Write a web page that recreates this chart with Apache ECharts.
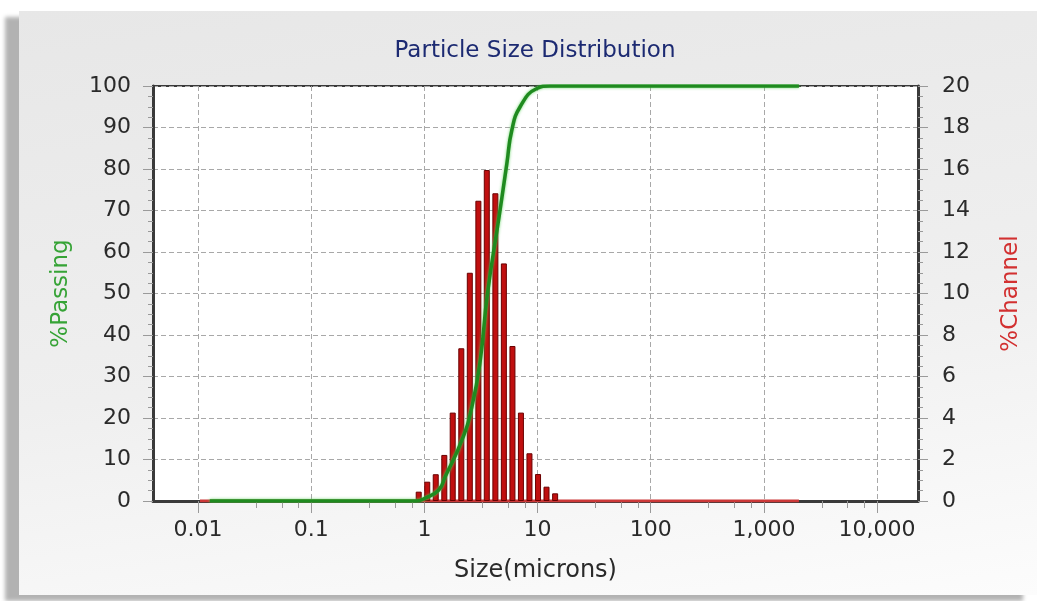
<!DOCTYPE html>
<html><head><meta charset="utf-8">
<script src="https://cdn.jsdelivr.net/npm/echarts@6/dist/echarts.min.js"></script>
<style>
html,body{margin:0;padding:0;background:#fff;width:1037px;height:601px;overflow:hidden;}
#panel{position:absolute;left:19px;top:11px;width:1018px;height:584px;background:linear-gradient(172deg,#e7e7e7 0%,#efefef 55%,#fcfcfc 100%);box-shadow:-14px 6px 4px rgba(0,0,0,0.3);}
#chart{position:absolute;left:0;top:0;width:1037px;height:601px;}
</style></head><body><div id="panel"></div><div id="chart"></div>
<script>
// %Channel bars (size in microns, percent in channel)
const channelSizes = [0.891, 1.06, 1.26, 1.5, 1.78, 2.12, 2.52, 3.0, 3.56, 4.24, 5.04, 6.0, 7.13, 8.48, 10.1, 12.0, 14.3];
const channelPercent = [0.45, 0.93, 1.29, 2.22, 4.26, 7.36, 11.0, 14.47, 15.95, 14.83, 11.45, 7.47, 4.26, 2.3, 1.3, 0.69, 0.37];
// %Channel zero line
const channelLineSizes = [0.0104, 2040];
const channelLinePercent = [0, 0];
// %Passing cumulative curve
const passingSizes = [0.0127, 0.85, 1.0, 1.34, 1.53, 2.15, 2.63, 3.12, 3.61, 4.6, 5.36, 5.93, 7.02, 9.86, 12.9, 20, 2040];
const passingPercent = [0, 0, 0.6, 2.65, 5.9, 14.7, 22.7, 34, 50, 69, 81.4, 89.4, 95, 99.4, 100, 100, 100];
// axis ticks
const xTickValues = [0.01, 0.1, 1, 10, 100, 1000, 10000];
const xTickLabels = ['0.01', '0.1', '1', '10', '100', '1,000', '10,000'];
const xMinorTickValues = [0.0325, 0.055, 0.0775, 0.325, 0.55, 0.775, 3.25, 5.5, 7.75, 32.5, 55, 77.5, 325, 550, 775, 3250, 5500, 7750];

const FONT = 'DejaVu Sans';
const zip = (a, b) => a.map((v, i) => [v, b[i]]);
const labelFor = v => {
  const i = xTickValues.findIndex(t => Math.abs(t - v) / t < 1e-6);
  return i >= 0 ? xTickLabels[i] : '';
};

const chart = echarts.init(document.getElementById('chart'), null, {renderer: 'canvas'});
chart.setOption({
  backgroundColor: 'transparent',
  animation: false,
  textStyle: {fontFamily: FONT},
  title: {
    text: 'Particle Size Distribution', left: 530, textAlign: 'center', top: 35,
    textStyle: {fontFamily: FONT, fontSize: 23, fontWeight: 'normal', color: '#1c2a72'}
  },
  grid: {left: 153, right: 119, top: 86, bottom: 100, show: true, backgroundColor: '#ffffff', borderColor: '#3a3a3a', borderWidth: 2},
  xAxis: [{
    type: 'log', logBase: 10, min: 0.004, max: 23000, position: 'bottom',
    axisLine: {show: true, onZero: false, lineStyle: {color: '#3a3a3a', width: 3}},
    axisTick: {show: true, length: 12, customValues: xTickValues, lineStyle: {color: '#9a9a9a', width: 1}},
    axisLabel: {show: true, customValues: xTickValues, formatter: labelFor, fontFamily: FONT, fontSize: 22, color: '#2a2a2a', margin: 18},
    splitLine: {show: true, lineStyle: {color: '#a8a8a8', type: [5, 3], width: 1}},
    name: 'Size(microns)', nameLocation: 'middle', nameGap: 58,
    nameTextStyle: {fontFamily: FONT, fontSize: 24, color: '#2a2a2a'}
  }, {
    type: 'log', logBase: 10, min: 0.004, max: 23000, position: 'bottom',
    axisLine: {show: false},
    axisTick: {show: true, length: 7, customValues: xMinorTickValues, lineStyle: {color: '#9a9a9a', width: 1}},
    axisLabel: {show: false},
    splitLine: {show: false}
  }],
  yAxis: [{
    type: 'value', min: 0, max: 100, interval: 10, position: 'left',
    axisLine: {show: true, lineStyle: {color: '#3a3a3a', width: 3}},
    axisTick: {show: true, length: 10, lineStyle: {color: '#9a9a9a'}},
    minorTick: {show: true, splitNumber: 4, length: 5, lineStyle: {color: '#9a9a9a'}},
    axisLabel: {fontFamily: FONT, fontSize: 22, color: '#2a2a2a', margin: 22},
    splitLine: {show: true, lineStyle: {color: '#a8a8a8', type: [5, 3], width: 1}},
    name: '%Passing', nameLocation: 'middle', nameGap: 80, nameRotate: 90,
    nameTextStyle: {fontFamily: FONT, fontSize: 23, color: '#36a336'}
  }, {
    type: 'value', min: 0, max: 20, interval: 2, position: 'right',
    axisLine: {show: true, lineStyle: {color: '#3a3a3a', width: 3}},
    axisTick: {show: true, length: 10, lineStyle: {color: '#9a9a9a'}},
    minorTick: {show: true, splitNumber: 4, length: 5, lineStyle: {color: '#9a9a9a'}},
    axisLabel: {fontFamily: FONT, fontSize: 22, color: '#2a2a2a', margin: 24},
    splitLine: {show: false},
    name: '%Channel', nameLocation: 'middle', nameGap: 82, nameRotate: 90,
    nameTextStyle: {fontFamily: FONT, fontSize: 23, color: '#d23030'}
  }],
  series: [{
    name: '%Channel line', type: 'line', xAxisIndex: 0, yAxisIndex: 1,
    data: zip(channelLineSizes, channelLinePercent), symbol: 'none', z: 2,
    lineStyle: {color: '#cc3838', width: 3}
  }, {
    name: '%Channel', type: 'bar', xAxisIndex: 0, yAxisIndex: 1,
    data: zip(channelSizes, channelPercent), barWidth: 6, z: 3,
    itemStyle: {color: '#c00f0f', borderColor: '#6a0000', borderWidth: 1}
  }, {
    name: '%Passing', type: 'line', xAxisIndex: 0, yAxisIndex: 0,
    data: zip(passingSizes, passingPercent), symbol: 'none', smooth: 0.5, z: 4,
    lineStyle: {color: '#1f8a1f', width: 3.5, shadowColor: 'rgba(90,210,90,0.9)', shadowBlur: 3}
  }]
});
</script></body></html>
